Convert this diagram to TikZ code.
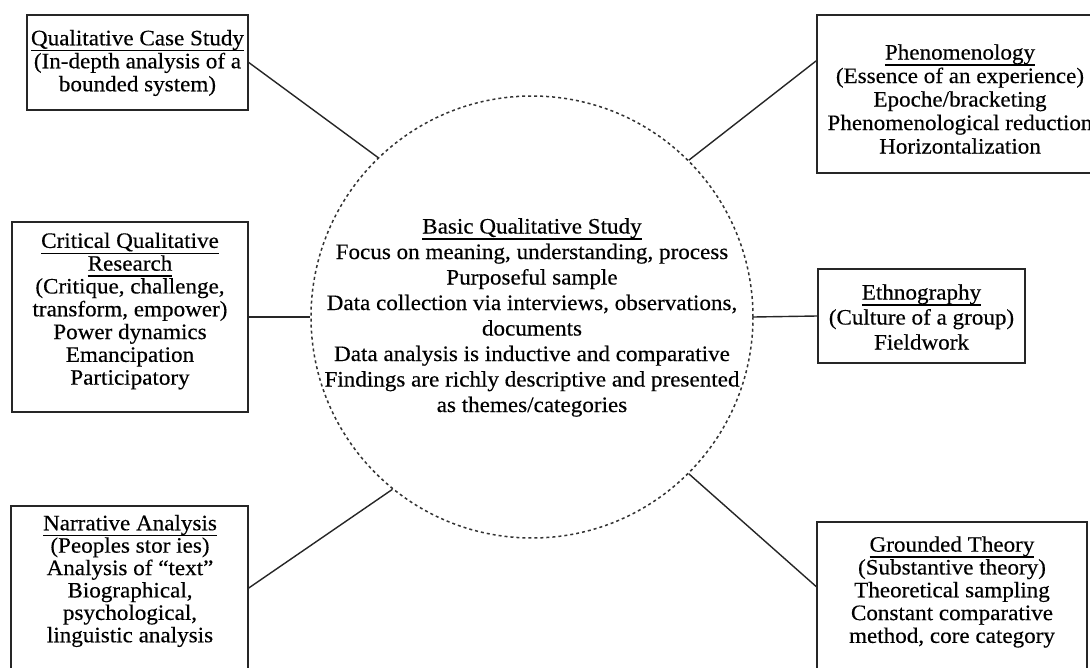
\documentclass[tikz,border=0pt]{standalone}
\usepackage{fontspec}
\setmainfont{Liberation Serif}[FakeStretch=1.05,FakeBold=0.35]
\newcommand{\ttl}[1]{\leavevmode\setbox0=\hbox{#1}\rlap{\rule[-6pt]{\wd0}{1.3pt}}\box0}
\tikzset{
  frame/.style={draw=black!85, line width=1.5pt, rectangle, inner sep=0pt},
  txt/.style={align=center, inner sep=0pt, text=black, font=\fontsize{22}{#1}\selectfont},
  txt/.default=23,
  link/.style={draw=black!85, line width=1.4pt},
  corecircle/.style={circle, draw=black!80, dash pattern=on 3pt off 3pt, line width=1.5pt, minimum size=442pt, inner sep=0pt}
}
\begin{document}
\begin{tikzpicture}[x=1pt,y=-1pt]
\useasboundingbox (0,0) rectangle (1090,668);
\clip (0,0) rectangle (1090,668);
\fill[white] (0,0) rectangle (1090,668);

% central circle
\node[corecircle] (core) at (532,317) {};
\node[txt=25.5] (coretxt) at (532,317.5) {\ttl{Basic Qualitative Study}\\
Focus on meaning, understanding, process\\
Purposeful sample\\
Data collection via interviews, observations,\\
documents\\
Data analysis is inductive and comparative\\
Findings are richly descriptive and presented\\
as themes/categories};

% boxes
\node[frame, minimum width=221pt, minimum height=95pt] (qcs) at (137.5,62.5) {};
\node[txt] (qcstxt) at (137.5,63) {\ttl{Qualitative Case Study}\\(In-depth analysis of a\\bounded system)};

\node[frame, minimum width=286pt, minimum height=158pt] (phen) at (960,94) {};
\node[txt=23.5] (phentxt) at (960,99) {\ttl{Phenomenology}\\(Essence of an experience)\\Epoche/bracketing\\Phenomenological reduction\\Horizontalization};

\node[frame, minimum width=236pt, minimum height=190pt] (cqr) at (130,317) {};
\node[txt=22.8] (cqrtxt) at (130,311) {\ttl{Critical Qualitative}\\\ttl{Research}\\(Critique, challenge,\\transform, empower)\\Power dynamics\\Emancipation\\Participatory};

\node[frame, minimum width=207pt, minimum height=94pt] (eth) at (921.5,316) {};
\node[txt=25] (ethtxt) at (921.5,317) {\ttl{Ethnography}\\(Culture of a group)\\Fieldwork};

\node[frame, minimum width=237pt, minimum height=164pt] (na) at (129.5,588) {};
\node[txt=22.4] (natxt) at (130,581) {\ttl{Narrative Analysis}\\(Peoples stor ies)\\Analysis of “text”\\Biographical,\\psychological,\\linguistic analysis};

\node[frame, minimum width=270pt, minimum height=153pt] (gt) at (952,598.5) {};
\node[txt=22.8] (gttxt) at (952,592) {\ttl{Grounded Theory}\\(Substantive theory)\\Theoretical sampling\\Constant comparative\\method, core category};

% connectors
\draw[link] (qcs.east) -- (core.134.5);
\draw[link] (phen.167.8) -- (core.45);
\draw[link] (cqr.east) -- (core.west);
\draw[link] (eth.west) -- (core.east);
\draw[link] (na.east) -- (core.231);
\draw[link] (gt.175.5) -- (core.315.4);
\end{tikzpicture}
\end{document}
